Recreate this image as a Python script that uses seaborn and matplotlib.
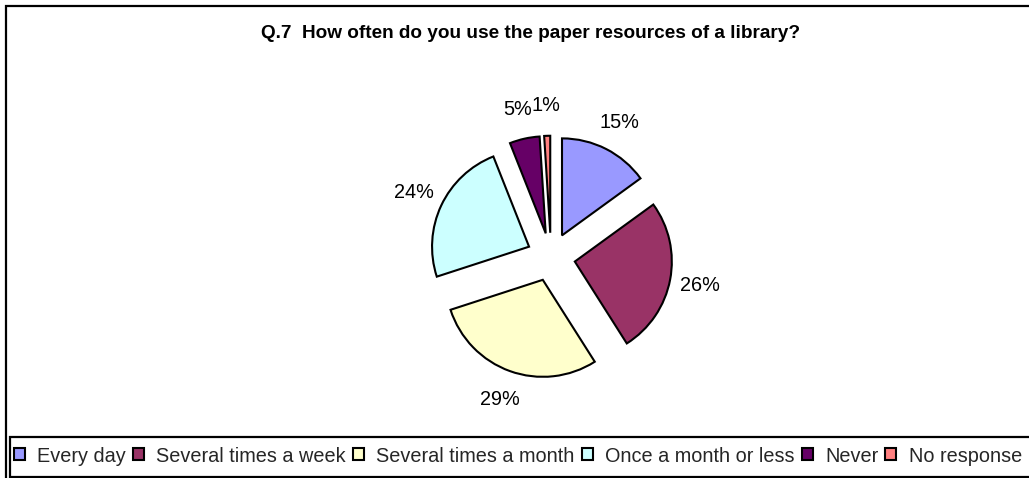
import matplotlib
matplotlib.use("Agg")
import matplotlib.pyplot as plt
from matplotlib.patches import Patch, Rectangle
import seaborn as sns

# Survey responses for question 7
categories = ["Every day", "Several times a week", "Several times a month",
              "Once a month or less", "Never", "No response"]
shares = [15, 26, 29, 24, 5, 1]
slice_colors = ["#9999FF", "#993366", "#FFFFCC", "#CCFFFF", "#660066", "#FF8080"]
title_text = "Q.7  How often do you use the paper resources of a library?"

sns.set_theme(style="white")
plt.rcParams["font.family"] = ["Liberation Sans", "DejaVu Sans"]
palette = sns.color_palette(slice_colors)

W, H = 1029, 478
fig = plt.figure(figsize=(W / 100, H / 100), dpi=100)
fig.patch.set_facecolor("white")

# pie axes: centre near (551, 257) px, radius ~97 px
cx, cy, r = 551, 257, 97
half = 1.6 * r
ax = fig.add_axes([(cx - half) / W, (H - cy - half) / H, 2 * half / W, 2 * half / H])
ax.pie(shares, colors=palette, startangle=90, counterclock=False,
       explode=[0.25] * len(shares), radius=1,
       autopct="%.0f%%", pctdistance=1.31,
       wedgeprops=dict(edgecolor="black", linewidth=1.5),
       textprops=dict(fontsize=14.3, color="black"))
ax.set_xlim(-1.6, 1.6)
ax.set_ylim(-1.6, 1.6)
ax.set_aspect("equal")
ax.axis("off")

fig.text(531 / W, 1 - 33 / H, title_text, ha="center", va="center",
         fontsize=13.7, fontweight="bold", color="black")

# outer chart border
fig.add_artist(Rectangle((6 / W, -10 / H), (W + 10) / W, (H - 6 + 10) / H,
                         transform=fig.transFigure, fill=False,
                         edgecolor="black", linewidth=1.6))

# legend box running along the bottom
fig.add_artist(Rectangle((10 / W, (H - 477) / H), (W + 10) / W, 40 / H,
                         transform=fig.transFigure, fill=True, facecolor="white",
                         edgecolor="black", linewidth=1.6, zorder=3))

handles = [Patch(facecolor=c, edgecolor="black", linewidth=1.5) for c in palette]
leg = fig.legend(handles, categories, ncol=len(categories),
                 loc="center left", bbox_to_anchor=(14 / W, (H - 456) / H),
                 fontsize=14.3, frameon=False, borderaxespad=0, borderpad=0,
                 handlelength=0.55, handleheight=0.55, handletextpad=0.62,
                 columnspacing=0.36)
leg.set_zorder(4)

fig.savefig("out.png", dpi=100, facecolor="white")
